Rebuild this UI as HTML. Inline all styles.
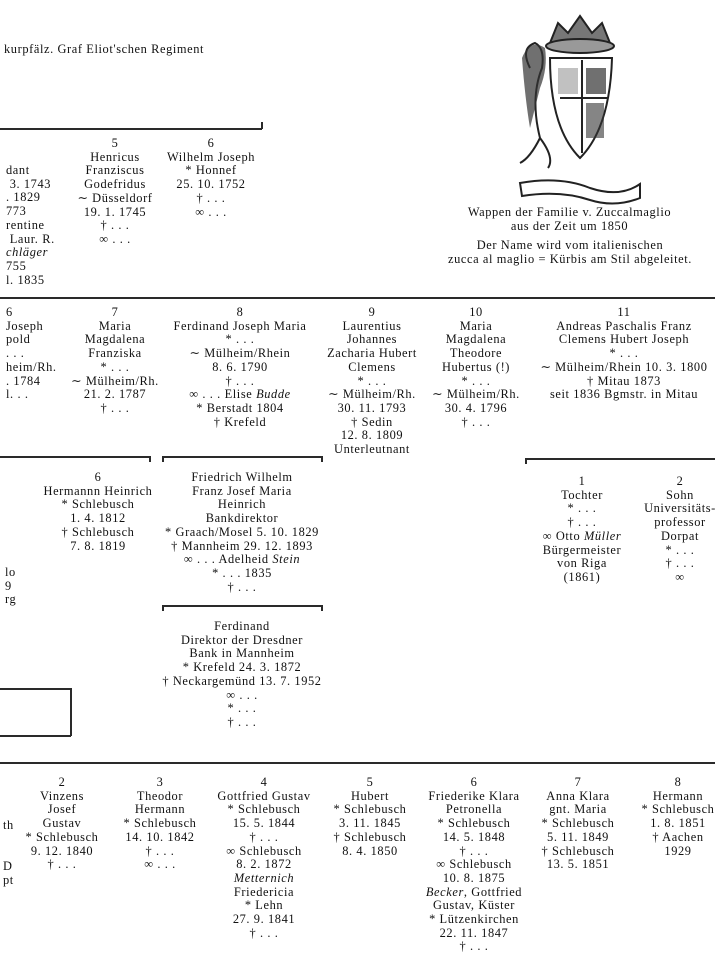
<!DOCTYPE html>
<html><head><meta charset="utf-8"><style>
html,body{margin:0;padding:0;background:#fff;}
body{width:715px;height:970px;position:relative;overflow:hidden;font-family:"Liberation Serif",serif;font-size:12.4px;letter-spacing:0.6px;color:#111;}
.b{position:absolute;width:220px;text-align:center;line-height:13.7px;white-space:nowrap;}
.l{position:absolute;line-height:13.7px;white-space:nowrap;text-align:left;}
.h{position:absolute;background:#2a2a2a;height:1.6px;}
.v{position:absolute;background:#2a2a2a;width:1.6px;}
i{font-style:italic;}
</style></head><body>

<div class="l" style="left:4px;top:43px;">kurpfälz. Graf Eliot'schen Regiment</div>

<!-- coat of arms -->
<svg style="position:absolute;left:500px;top:8px" width="160" height="200" viewBox="0 0 160 200">
<g fill="none" stroke="#222" stroke-width="2">
<path d="M50 35 L58 15 L68 25 L80 8 L92 25 L102 15 L110 35 Z" fill="#777"/>
<ellipse cx="80" cy="38" rx="34" ry="7" fill="#999"/>
<path d="M50 50 Q50 120 80 150 Q110 120 112 50 Z"/>
<path d="M82 52 L82 145 M60 90 L108 90"/>
<path d="M30 60 Q20 40 35 35 Q45 40 42 60 Q30 90 40 130 Q30 150 20 155 M40 130 Q55 150 48 160"/>
<path d="M20 175 Q60 168 90 180 Q120 190 140 176 L140 190 Q115 200 90 192 Q60 182 22 188 Z"/>
</g>
<g fill="#333"><path d="M22 50 Q30 30 45 40 Q48 60 40 80 L30 120 Q25 90 22 50Z" opacity=".7"/><rect x="86" y="60" width="20" height="26" opacity=".7"/><rect x="86" y="95" width="18" height="35" opacity=".6"/><rect x="58" y="60" width="20" height="26" opacity=".3"/></g>
</svg>

<div class="b" style="left:447px;top:206px;width:245px">Wappen der Familie v. Zuccalmaglio<br>aus der Zeit um 1850</div>
<div class="b" style="left:420px;top:239px;width:300px">Der Name wird vom italienischen<br>zucca al maglio = Kürbis am Stil abgeleitet.</div>

<!-- lines -->
<div class="h" style="left:0;top:128px;width:262px"></div>
<div class="v" style="left:261px;top:122px;height:7px"></div>
<div class="h" style="left:0;top:297px;width:715px"></div>
<div class="h" style="left:0;top:456px;width:150px"></div>
<div class="v" style="left:149px;top:456px;height:6px"></div>
<div class="h" style="left:162px;top:456px;width:160px"></div>
<div class="v" style="left:162px;top:456px;height:6px"></div><div class="v" style="left:321px;top:456px;height:6px"></div>
<div class="h" style="left:525px;top:458px;width:190px"></div>
<div class="v" style="left:525px;top:458px;height:6px"></div>
<div class="h" style="left:162px;top:605px;width:160px"></div>
<div class="v" style="left:162px;top:605px;height:6px"></div><div class="v" style="left:321px;top:605px;height:6px"></div>
<div class="h" style="left:0;top:688px;width:71px"></div>
<div class="v" style="left:70px;top:688px;height:48px"></div>
<div class="h" style="left:0;top:735px;width:71px"></div>
<div class="h" style="left:0;top:762px;width:715px"></div>

<!-- section 1 -->
<div class="l" style="left:6px;top:164px">dant<br>&nbsp;3. 1743<br>. 1829<br>773<br>rentine<br>&nbsp;Laur. R.<br><i>chläger</i><br>755<br>l. 1835</div>
<div class="b" style="left:5px;top:137px">5<br>Henricus<br>Franziscus<br>Godefridus<br>∼ Düsseldorf<br>19. 1. 1745<br>† . . .<br>∞ . . .</div>
<div class="b" style="left:101px;top:137px">6<br>Wilhelm Joseph<br>* Honnef<br>25. 10. 1752<br>† . . .<br>∞ . . .</div>

<!-- section 2 -->
<div class="l" style="left:6px;top:306px">6<br>Joseph<br>pold<br>. . .<br>heim/Rh.<br>. 1784<br>l. . .</div>
<div class="b" style="left:5px;top:306px">7<br>Maria<br>Magdalena<br>Franziska<br>* . . .<br>∼ Mülheim/Rh.<br>21. 2. 1787<br>† . . .</div>
<div class="b" style="left:130px;top:306px">8<br>Ferdinand Joseph Maria<br>* . . .<br>∼ Mülheim/Rhein<br>8. 6. 1790<br>† . . .<br>∞ . . . Elise <i>Budde</i><br>* Berstadt 1804<br>† Krefeld</div>
<div class="b" style="left:262px;top:306px">9<br>Laurentius<br>Johannes<br>Zacharia Hubert<br>Clemens<br>* . . .<br>∼ Mülheim/Rh.<br>30. 11. 1793<br>† Sedin<br>12. 8. 1809<br>Unterleutnant</div>
<div class="b" style="left:366px;top:306px">10<br>Maria<br>Magdalena<br>Theodore<br>Hubertus (!)<br>* . . .<br>∼ Mülheim/Rh.<br>30. 4. 1796<br>† . . .</div>
<div class="b" style="left:514px;top:306px">11<br>Andreas Paschalis Franz<br>Clemens Hubert Joseph<br>* . . .<br>∼ Mülheim/Rhein 10. 3. 1800<br>† Mitau 1873<br>seit 1836 Bgmstr. in Mitau</div>

<!-- section 3 -->
<div class="l" style="left:5px;top:566px">lo<br>9<br>rg</div>
<div class="b" style="left:-12px;top:471px">6<br>Hermannn Heinrich<br>* Schlebusch<br>1. 4. 1812<br>† Schlebusch<br>7. 8. 1819</div>
<div class="b" style="left:132px;top:471px">Friedrich Wilhelm<br>Franz Josef Maria<br>Heinrich<br>Bankdirektor<br>* Graach/Mosel 5. 10. 1829<br>† Mannheim 29. 12. 1893<br>∞ . . . Adelheid <i>Stein</i><br>* . . . 1835<br>† . . .</div>
<div class="b" style="left:472px;top:475px">1<br>Tochter<br>* . . .<br>† . . .<br>∞ Otto <i>Müller</i><br>Bürgermeister<br>von Riga<br>(1861)</div>
<div class="b" style="left:570px;top:475px">2<br>Sohn<br>Universitäts-<br>professor<br>Dorpat<br>* . . .<br>† . . .<br>∞</div>

<!-- section 4 -->
<div class="b" style="left:132px;top:620px">Ferdinand<br>Direktor der Dresdner<br>Bank in Mannheim<br>* Krefeld 24. 3. 1872<br>† Neckargemünd 13. 7. 1952<br>∞ . . .<br>* . . .<br>† . . .</div>

<!-- section 5 -->
<div class="l" style="left:3px;top:819px">th</div>
<div class="l" style="left:3px;top:860px">D<br>pt</div>
<div class="b" style="left:-48px;top:776px">2<br>Vinzens<br>Josef<br>Gustav<br>* Schlebusch<br>9. 12. 1840<br>† . . .</div>
<div class="b" style="left:50px;top:776px">3<br>Theodor<br>Hermann<br>* Schlebusch<br>14. 10. 1842<br>† . . .<br>∞ . . .</div>
<div class="b" style="left:154px;top:776px">4<br>Gottfried Gustav<br>* Schlebusch<br>15. 5. 1844<br>† . . .<br>∞ Schlebusch<br>8. 2. 1872<br><i>Metternich</i><br>Friedericia<br>* Lehn<br>27. 9. 1841<br>† . . .</div>
<div class="b" style="left:260px;top:776px">5<br>Hubert<br>* Schlebusch<br>3. 11. 1845<br>† Schlebusch<br>8. 4. 1850</div>
<div class="b" style="left:364px;top:776px">6<br>Friederike Klara<br>Petronella<br>* Schlebusch<br>14. 5. 1848<br>† . . .<br>∞ Schlebusch<br>10. 8. 1875<br><i>Becker</i>, Gottfried<br>Gustav, Küster<br>* Lützenkirchen<br>22. 11. 1847<br>† . . .</div>
<div class="b" style="left:468px;top:776px">7<br>Anna Klara<br>gnt. Maria<br>* Schlebusch<br>5. 11. 1849<br>† Schlebusch<br>13. 5. 1851</div>
<div class="b" style="left:568px;top:776px">8<br>Hermann<br>* Schlebusch<br>1. 8. 1851<br>† Aachen<br>1929</div>

</body></html>
